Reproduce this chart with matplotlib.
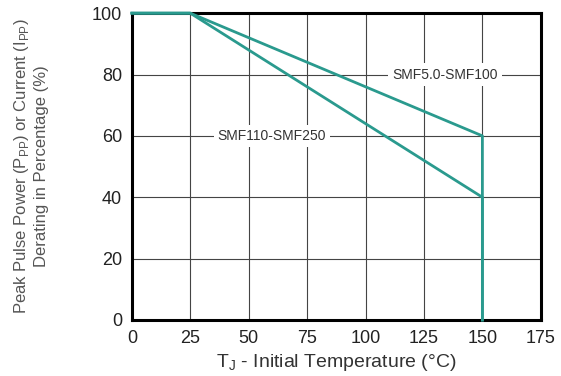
import matplotlib
matplotlib.use("Agg")
import matplotlib.pyplot as plt

plt.rcParams['font.family'] = ['Liberation Sans', 'DejaVu Sans']

temp_a = [0, 25, 150, 150]
pct_a = [100, 100, 60, 0]
temp_b = [0, 25, 150, 150]
pct_b = [100, 100, 40, 0]
label_a = "SMF5.0-SMF100"
label_b = "SMF110-SMF250"
xticks = [0, 25, 50, 75, 100, 125, 150, 175]
yticks = [0, 20, 40, 60, 80, 100]

color = '#2A9A8E'
fig = plt.figure(figsize=(5.61, 3.76), dpi=100)
ax = fig.add_axes([0.235, 0.149, 0.729, 0.816])
ax.plot(temp_a, pct_a, color=color, lw=2, zorder=3, clip_on=False)
ax.plot(temp_b, pct_b, color=color, lw=2, zorder=3, clip_on=False)
ax.set_xlim(0, 175)
ax.set_ylim(0, 100)
ax.set_xticks(xticks)
ax.set_yticks(yticks)
ax.grid(True, color='#444444', lw=0.8)
ax.set_axisbelow(True)
for s in ax.spines.values():
    s.set_linewidth(2.2)
    s.set_color('black')
ax.tick_params(length=0, labelsize=13, colors='#222222', pad=7)
ax.set_xlabel("T$_\\mathregular{J}$ - Initial Temperature (°C)", fontsize=14, color='#333333', labelpad=4)
ax.set_ylabel("Peak Pulse Power (P$_\\mathregular{PP}$) or Current (I$_\\mathregular{PP}$)\nDerating in Percentage (%)",
              fontsize=12, color='#555555', labelpad=31, linespacing=1.25)
bb = dict(facecolor='white', edgecolor='none', pad=3)
ax.text(134, 80, label_a, ha='center', va='center', fontsize=10, color='#333333', bbox=bb, zorder=4)
ax.text(60, 60, label_b, ha='center', va='center', fontsize=10, color='#333333', bbox=bb, zorder=4)
fig.savefig("out.png", dpi=100)
